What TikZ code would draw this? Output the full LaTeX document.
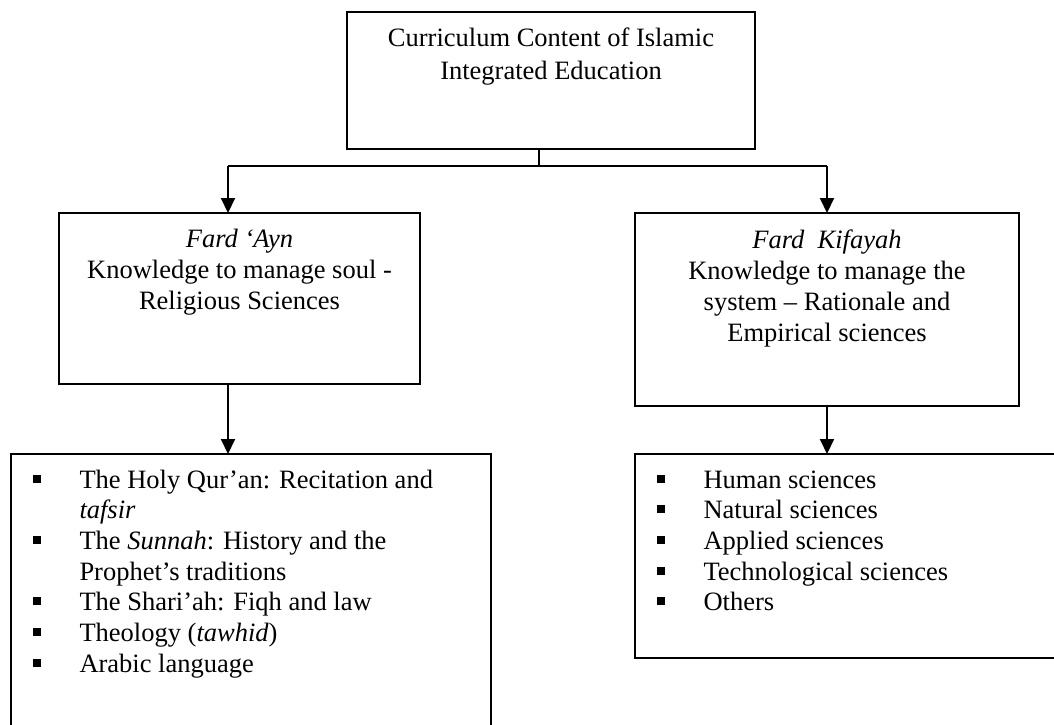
\documentclass[tikz,border=0pt]{standalone}
\usepackage{fontspec}
\setmainfont{Liberation Serif}
\usetikzlibrary{arrows.meta}

% list helpers: square bullet and hanging indent
\newcommand{\sqbul}{\makebox[46.5pt][l]{\rule[5.5pt]{8pt}{8pt}}}
\newcommand{\hang}{\hspace*{46.5pt}}

\begin{document}
\begin{tikzpicture}[x=1pt,y=-1pt,
  box/.style={draw=black, line width=2pt, inner sep=0pt, outer sep=0pt, anchor=north west},
  txt/.style={inner sep=0pt, outer sep=0pt},
  link/.style={draw=black, line width=2pt},
  arrowlink/.style={link, -{Triangle[length=15pt,width=14pt]}}]

\useasboundingbox (0,0) rectangle (1054,724);
\fill[white] (0,0) rectangle (1054,724);
\clip (0,0) rectangle (1054,724);

% boxes
\node[box, minimum width=408pt, minimum height=137pt] (top) at (347,12) {};
\node[box, minimum width=361pt, minimum height=171pt] (lm) at (59,213) {};
\node[box, minimum width=384pt, minimum height=193pt] (rm) at (635,213) {};
\node[box, minimum width=480pt, minimum height=300pt] (bl) at (11,454) {};
\node[box, minimum width=450pt, minimum height=204pt] (br) at (635,454) {};

% box texts
\node[txt, anchor=base] (toptext) at (551,46) {\fontsize{26.5}{33}\selectfont
  \begin{tabular}[t]{@{}c@{}}
  Curriculum Content of Islamic\\
  Integrated Education
  \end{tabular}};

\node[txt, anchor=base] (lmtext) at (239.5,247) {\fontsize{26.5}{31}\selectfont
  \begin{tabular}[t]{@{}c@{}}
  \textit{Fard ‘Ayn}\\
  Knowledge to manage soul -\\
  Religious Sciences
  \end{tabular}};

\node[txt, anchor=base] (rmtext) at (827,248) {\fontsize{26.5}{31}\selectfont
  \begin{tabular}[t]{@{}c@{}}
  \textit{Fard\ \ Kifayah}\\
  Knowledge to manage the\\
  system – Rationale and\\
  Empirical sciences
  \end{tabular}};

\node[txt, anchor=base west] (bltext) at (33,488) {\fontsize{26.5}{30.7}\selectfont
  \begin{tabular}[t]{@{}l@{}}
  \sqbul The Holy Qur’an: Recitation and\\
  \hang\textit{tafsir}\\
  \sqbul The \textit{Sunnah}: History and the\\
  \hang Prophet’s traditions\\
  \sqbul The Shari’ah: Fiqh and law\\
  \sqbul Theology (\textit{tawhid})\\
  \sqbul Arabic language
  \end{tabular}};

\node[txt, anchor=base west] (brtext) at (657,488) {\fontsize{26.5}{30.7}\selectfont
  \begin{tabular}[t]{@{}l@{}}
  \sqbul Human sciences\\
  \sqbul Natural sciences\\
  \sqbul Applied sciences\\
  \sqbul Technological sciences\\
  \sqbul Others
  \end{tabular}};

% connectors
\coordinate (j) at (539,166);
\coordinate (jl) at (228,166);
\coordinate (jr) at (827,166);
\draw[link] (top.south -| j) -- (j);
\draw[link] (jl) -- (jr);
\draw[arrowlink] (jl) -- (jl |- lm.north);
\draw[arrowlink] (jr) -- (jr |- rm.north);
\draw[arrowlink] (lm.south -| jl) -- (bl.north -| jl);
\draw[arrowlink] (rm.south -| jr) -- (br.north -| jr);
\end{tikzpicture}
\end{document}
